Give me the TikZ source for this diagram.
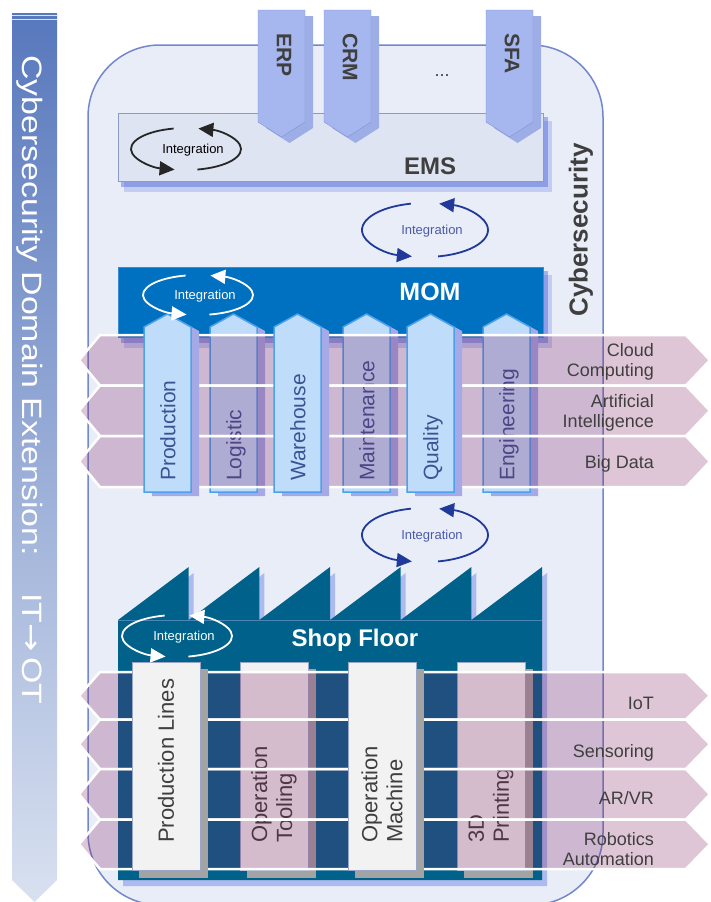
\documentclass[tikz,border=0pt]{standalone}
\usepackage{graphicx}
\usepackage{fontspec}
\setmainfont{Liberation Sans}
\newfontfamily\arrowfont{DejaVu Sans}
\usepackage{tikz}
\usetikzlibrary{arrows.meta}

\definecolor{framebg}{HTML}{E9EDF8}
\definecolor{frameline}{HTML}{7387CC}
\definecolor{tabfill}{HTML}{A6B6EE}
\definecolor{tabline}{HTML}{7F93D8}
\definecolor{tabshadow}{HTML}{9DAEE6}
\definecolor{emsfill}{HTML}{DFE4F3}
\definecolor{emsline}{HTML}{8A9AC9}
\definecolor{glow}{HTML}{3D5BD9}
\definecolor{momblue}{HTML}{0070C0}
\definecolor{momline}{HTML}{3C8AD0}
\definecolor{colfill}{HTML}{BFDDFB}
\definecolor{colline}{HTML}{4DA0EA}
\definecolor{coltext}{HTML}{3A5493}
\definecolor{colshadow}{HTML}{A5AAE6}
\definecolor{roof}{HTML}{00628A}
\definecolor{roofline}{HTML}{4A86B5}
\definecolor{linefill}{HTML}{F2F2F2}
\definecolor{linebord}{HTML}{9AA6C8}
\definecolor{lineshadow}{HTML}{A3A3A3}
\definecolor{bandc}{HTML}{801D5F}
\definecolor{darktext}{HTML}{3F3F3F}
\definecolor{cycleblue}{HTML}{1F3A9A}
\definecolor{cycletext}{HTML}{4A5BA8}
\definecolor{cycleblack}{HTML}{262626}
\definecolor{bartop}{HTML}{5878BD}
\definecolor{barmid}{HTML}{B9C7E5}
\definecolor{barbot}{HTML}{D9E1F0}

\newcommand{\glowunder}[4]{%
  \fill[glow, opacity=.22] (#1+6,#2-8) rectangle (#3+9,#4-11);
  \fill[glow, opacity=.4] (#1+3,#2-4) rectangle (#3+5,#4-6);
}
\newcommand{\integration}[7]{%
  \draw[#6, line width=1.8pt, -{Triangle[length=15pt,width=14pt]}] (#2,#3) ++(-78:#4 and #5)
    arc[start angle=-78, end angle=77, x radius=#4, y radius=#5];
  \draw[#6, line width=1.8pt, -{Triangle[length=15pt,width=14pt]}] (#2,#3) ++(103:#4 and #5)
    arc[start angle=103, end angle=258, x radius=#4, y radius=#5];
  \node[integtxt, text=#7] (#1) at (#2+7,#3-1) {Integration};
}
\newcommand{\momcolumn}[3]{%
  \fill[colshadow] (#1+8,-496) -- (#1+8,-331) -- (#1+31.5,-318) -- (#1+55,-331) -- (#1+55,-496) -- cycle;
  \draw[colline, line width=1.5pt, fill=colfill] (#1,-492) -- (#1,-327) -- (#1+23.5,-314) -- (#1+47,-327) -- (#1+47,-492) -- cycle;
  \node[coltxt, rotate=90, anchor=west] (#2) at (#1+26,-481) {#3};
}
\newcommand{\floorcolumn}[3]{%
  \fill[lineshadow] (#1+7,-669) rectangle (#1+76,-878);
  \draw[linebord, line width=1pt, fill=linefill] (#1,-662) rectangle (#1+68,-870);
  \node[floortxt, rotate=90, anchor=west] (#2) at (#1+34,-843) {#3};
}
\newcommand{\bandshape}[2]{%
  \filldraw[band] (79,{-(#1+#2)/2}) -- (100,-#1) -- (686,-#1) -- (710,{-(#1+#2)/2}) -- (686,-#2) -- (100,-#2) -- cycle;
}

\begin{document}
\begin{tikzpicture}[x=1pt, y=1pt,
  bartxt/.style={text=white, font=\fontsize{28}{32}\selectfont, inner sep=0pt},
  tabtxt/.style={text=darktext, font=\bfseries\fontsize{21}{24}\selectfont, inner sep=0pt},
  boxtxt/.style={font=\bfseries\fontsize{24}{28}\selectfont, inner sep=0pt},
  coltxt/.style={text=coltext, font=\fontsize{21}{24}\selectfont, inner sep=0pt, text height=15pt, text depth=4.5pt},
  floortxt/.style={text=darktext, font=\fontsize{22}{25}\selectfont, inner sep=0pt, align=left},
  bandtxt/.style={text=darktext, font=\fontsize{18}{20}\selectfont, inner sep=0pt, align=right, anchor=east},
  integtxt/.style={font=\fontsize{13}{15}\selectfont, inner sep=0pt},
  band/.style={fill=bandc, fill opacity=.25, draw=white, line width=2.5pt},
]
\useasboundingbox (0,0) rectangle (710,-902);

\shade[top color=bartop, middle color=barmid, bottom color=barbot]
  (12,-13) -- (57,-13) -- (57,-880) -- (34.5,-902) -- (12,-880) -- cycle;
\draw[white, opacity=.8, line width=1pt] (12,-15.5) -- (57,-15.5) (12,-19.5) -- (57,-19.5);
\node[bartxt, rotate=-90, anchor=west] (domain) at (30,-55)
  {\scalebox{1.21}[1]{Cybersecurity Domain Extension:\hspace{1.1em}IT{\arrowfont →}\,OT}};

\draw[frameline, line width=1.5pt, fill=framebg, rounded corners=72pt] (88,-45) rectangle (603,-905);
\node[boxtxt, text=darktext, font=\bfseries\fontsize{26}{30}\selectfont, rotate=90] (cyber) at (581,-230) {Cybersecurity};

\glowunder{118}{-113}{543}{-181}
\draw[emsline, fill=emsfill] (118,-113) rectangle (543,-181);
\foreach \x/\name/\txt in {258/erp/ERP, 324/crm/CRM, 486/sfa/SFA} {
  \fill[tabshadow] (\x+8,-16) -- (\x+55,-16) -- (\x+55,-128) -- (\x+31.5,-143) -- (\x+8,-128) -- cycle;
  \draw[tabline, fill=tabfill] (\x,-10) -- (\x+47,-10) -- (\x+47,-122) -- (\x+23.5,-137) -- (\x,-122) -- cycle;
  \node[tabtxt, rotate=-90, anchor=west] (\name) at (\x+26,-33) {\txt};
}
\node[tabtxt, font=\fontsize{18}{20}\selectfont] (more) at (442,-76) {...};
\node[boxtxt, text=darktext] (ems) at (430,-166) {EMS};
\integration{integems}{186}{-149}{55}{21}{cycleblack}{black}

\integration{integup}{425}{-230}{63}{27}{cycleblue}{cycletext}

\glowunder{118}{-267}{543}{-337}
\draw[momline, fill=momblue] (118,-267) rectangle (543,-337);
\node[boxtxt, text=white, font=\bfseries\fontsize{25}{29}\selectfont] (mom) at (430,-292) {MOM};

\begin{scope}[xshift=5pt, yshift=-6pt]
  \fill[glow, opacity=.35] (118,-620) foreach \i in {1,...,6} { -- ({118+70.67*\i},-567) -- ({118+70.67*\i},-620) }
    -- (542,-880) -- (118,-880) -- cycle;
\end{scope}
\fill[roof] (118,-620) foreach \i in {1,...,6} { -- ({118+70.67*\i},-567) -- ({118+70.67*\i},-620) }
  -- (542,-880) -- (118,-880) -- cycle;
\draw[roofline, line width=1pt] (118,-620) -- (542,-620);
\node[boxtxt, text=white] (shop) at (355,-640) {Shop Floor};

\momcolumn{210}{logistic}{Logistic}
\momcolumn{343}{maint}{Maintenance}
\momcolumn{483}{engin}{Engineering}
\floorcolumn{240}{tooling}{Operation\\Tooling}
\floorcolumn{457}{printing}{3D\\Printing}

\foreach \t/\b in {335/385.5, 385.5/436, 436/487, 672/719.5, 719.5/769, 769/819.5, 819.5/869} {
  \bandshape{\t}{\b}
}

\momcolumn{144}{prod}{Production}
\momcolumn{274}{ware}{Warehouse}
\momcolumn{407}{qual}{Quality}
\floorcolumn{132}{lines}{Production Lines}
\floorcolumn{348}{machine}{Operation\\Machine}

\integration{integmom}{198}{-295}{55}{20}{white}{white}
\integration{integdown}{425}{-535}{63}{27}{cycleblue}{cycletext}
\integration{integshop}{177}{-636}{55}{21}{white}{white}

\node[bandtxt] (cloud) at (654,-362) {Cloud\\Computing};
\node[bandtxt] (ai) at (654,-413) {Artificial\\Intelligence};
\node[bandtxt] (bigdata) at (654,-464) {Big Data};
\node[bandtxt] (iot) at (654,-703) {IoT};
\node[bandtxt] (sensor) at (654,-753) {Sensoring};
\node[bandtxt] (arvr) at (654,-798) {AR/VR};
\node[bandtxt] (robot) at (654,-849) {Robotics\\Automation};
\end{tikzpicture}
\end{document}
